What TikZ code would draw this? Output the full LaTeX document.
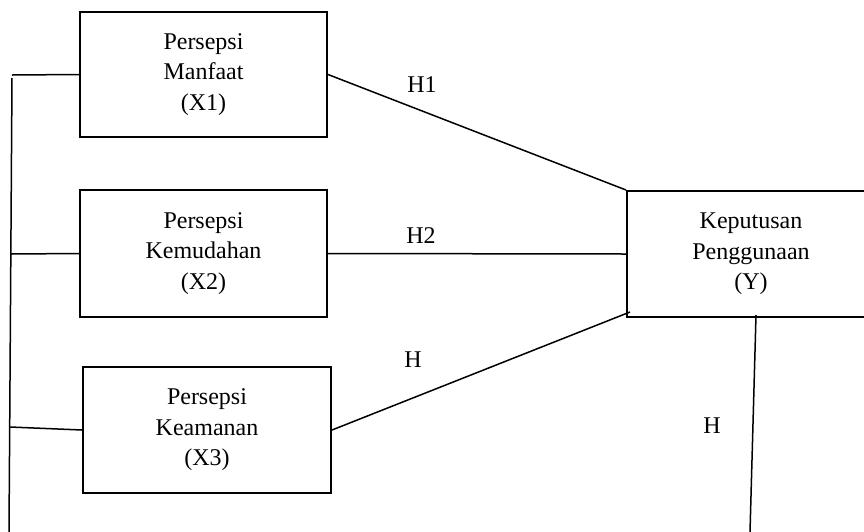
\documentclass[tikz,border=0pt]{standalone}
\usepackage{fontspec}
\setmainfont{Liberation Serif}
\begin{document}
\begin{tikzpicture}[x=1pt,y=-1pt,
  varbox/.style={draw,line width=2pt,inner sep=0pt,align=center,
    font=\fontsize{24}{30.5}\selectfont},
  link/.style={line width=1.5pt},
  hlabel/.style={anchor=base,inner sep=0pt,font=\fontsize{24}{30}\selectfont}]
\useasboundingbox (0,0) rectangle (864,531);
% variable boxes
\node[varbox,minimum width=247pt,minimum height=125pt] (x1) at (203.5,74.5) {Persepsi\\Manfaat\\(X1)};
\node[varbox,minimum width=247pt,minimum height=127pt] (x2) at (203.5,253.5) {Persepsi\\Kemudahan\\(X2)};
\node[varbox,minimum width=248pt,minimum height=126pt] (x3) at (207,430) {Persepsi\\Keamanan\\(X3)};
\node[varbox,minimum width=248pt,minimum height=126pt] (y) at (751,254) {Keputusan\\Penggunaan\\(Y)};
% bus on the left
\coordinate (busTop) at (12,78);
\coordinate (busBot) at (9,532);
\coordinate (b1) at (12,75);
\coordinate (b2) at (11,254);
\coordinate (b3) at (10,427);
\draw[link] (busTop) -- (busBot);
\draw[link] (b1) -- (x1.west);
\draw[link] (b2) -- (x2.west);
\draw[link] (b3) -- (x3.west);
% hypotheses
\coordinate (y3end) at (630,312);
\coordinate (yb) at (756,315);
\coordinate (yend) at (750,532);
\draw[link] (x1.east) -- (y.north west);
\draw[link] (x2.east) -- (y.west);
\draw[link] (x3.east) -- (y3end);
\draw[link] (yb) -- (yend);
% labels
\node[hlabel] (h1) at (422,92) {H1};
\node[hlabel] (h2) at (421,243) {H2};
\node[hlabel] (h3) at (413,367) {H};
\node[hlabel] (h4) at (712,433) {H};
\end{tikzpicture}
\end{document}
